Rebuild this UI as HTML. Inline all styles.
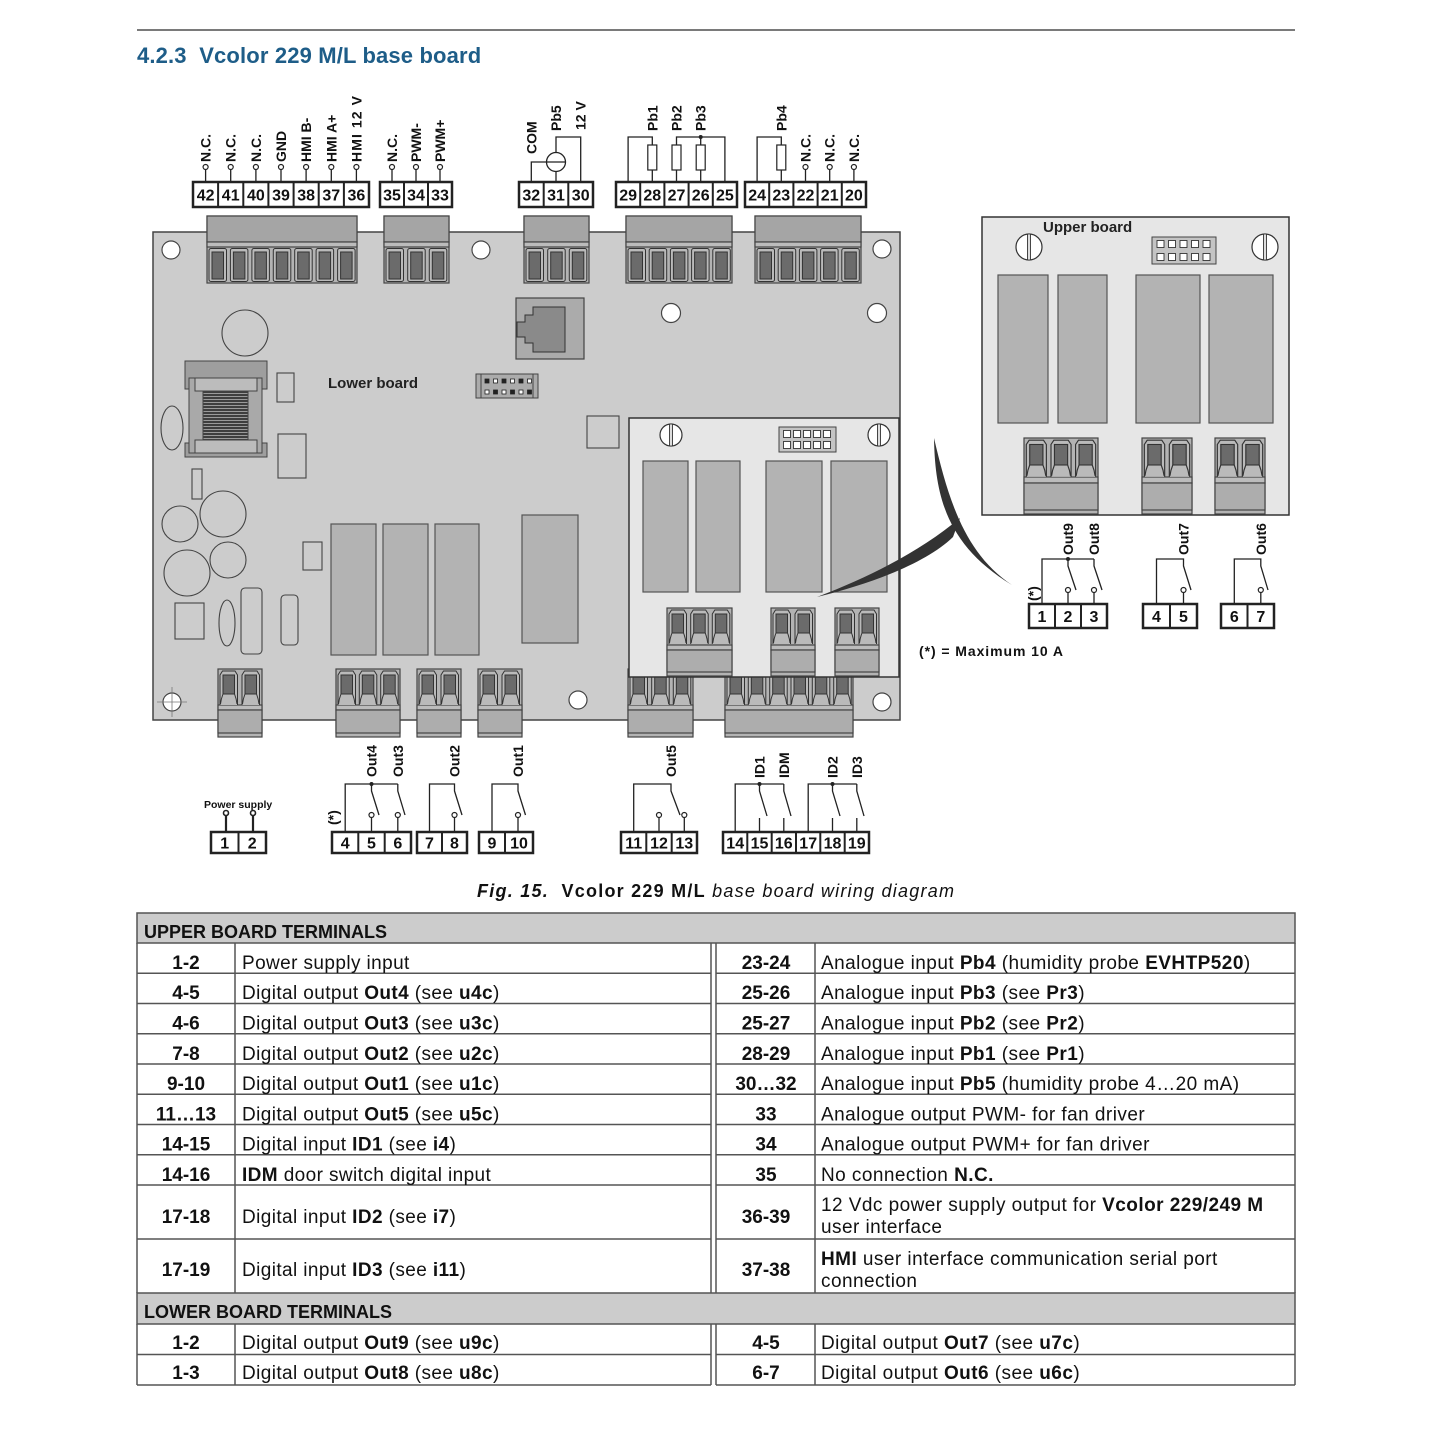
<!DOCTYPE html>
<html><head><meta charset="utf-8">
<style>
html,body{margin:0;padding:0;background:#fff;}
svg{display:block;}
text{font-family:"Liberation Sans",sans-serif;}
.lb{font-size:14px;font-weight:bold;fill:#111;}
.num{font-size:16px;font-weight:bold;fill:#111;text-anchor:middle;}
.k{font-size:19px;font-weight:bold;fill:#111;text-anchor:middle;}
.t{font-size:19px;fill:#111;letter-spacing:0.4px;}
.tr{font-size:19px;fill:#111;letter-spacing:0.45px;}
.h{font-size:18px;font-weight:bold;fill:#111;}
.w{stroke:#222;stroke-width:1.3;fill:none;}
.c{stroke:#444;stroke-width:1.1;fill:none;}
.box{fill:#fff;stroke:#222;stroke-width:2.5;}
.dv{stroke:#222;stroke-width:2;}
.tl{stroke:#555;stroke-width:1.5;}
</style></head><body>
<svg width="1445" height="1445" viewBox="0 0 1445 1445" xmlns="http://www.w3.org/2000/svg">
<defs>
 <pattern id="coil" width="4" height="3" patternUnits="userSpaceOnUse"><rect width="4" height="3" fill="#3e3e3e"/><rect width="4" height="1" fill="#9a9a9a"/></pattern>
 <g id="pt">
  <rect x="2" y="1.5" width="17.5" height="33" rx="2" fill="#bababa" stroke="#333" stroke-width="1"/>
  <rect x="5" y="5" width="11.5" height="27" fill="#6b6b6b" stroke="#333" stroke-width="1"/>
 </g>
 <g id="pb">
  <path d="M2,36 L2,6 L4.5,2 L17,2 L19.5,6 L19.5,36" fill="#bababa" stroke="#333" stroke-width="1"/>
  <rect x="5" y="6" width="11.5" height="19" fill="#6b6b6b" stroke="#333" stroke-width="1"/>
  <path d="M5,25 Q3,30 2.5,35 M16.5,25 Q18.5,30 19,35" fill="none" stroke="#333" stroke-width="1"/>
 </g>
</defs>
<rect width="1445" height="1445" fill="#fff"/>

<!-- header -->
<line x1="137" y1="30" x2="1295" y2="30" stroke="#7a7a7a" stroke-width="2"/>
<text x="137" y="63" font-size="22" font-weight="bold" fill="#1e5d88" style="white-space:pre" letter-spacing="0.15">4.2.3  Vcolor 229 M/L base board</text>

<!-- ============ LOWER BOARD ============ -->
<rect x="153" y="232" width="747" height="488" fill="#cccccc" stroke="#444" stroke-width="1.5"/>

<!-- holes -->
<g fill="#fff" stroke="#444" stroke-width="1.2">
 <circle cx="171" cy="250" r="9"/><circle cx="481" cy="250" r="9"/><circle cx="882" cy="249" r="9"/>
 <circle cx="671" cy="313" r="9.5"/><circle cx="877" cy="313" r="9.5"/><circle cx="578" cy="700" r="9"/>
 <circle cx="882" cy="702" r="9"/><circle cx="172" cy="702" r="9"/>
</g>
<path d="M157,702 H187 M172,687 V717" stroke="#777" stroke-width="0.8"/>

<!-- components lower board -->
<circle cx="245" cy="333" r="23" class="c"/>
<rect x="185" y="361" width="82" height="28" fill="#9e9e9e" stroke="#444"/>
<rect x="185" y="443" width="82" height="14" fill="#9e9e9e" stroke="#444"/>
<rect x="189" y="378" width="73" height="75" fill="#a9a9a9" stroke="#444"/>
<rect x="195" y="378" width="62" height="13" fill="#bcbcbc" stroke="#444"/>
<rect x="195" y="440" width="62" height="13" fill="#bcbcbc" stroke="#444"/>
<rect x="203" y="391" width="45" height="49" fill="url(#coil)" stroke="#444"/>
<rect x="277" y="373" width="17" height="29" class="c"/>
<rect x="278" y="434" width="28" height="44" class="c"/>
<ellipse cx="172" cy="428" rx="11" ry="22" class="c"/>
<rect x="192" y="469" width="10" height="30" class="c"/>
<circle cx="180" cy="524" r="18" class="c"/>
<circle cx="223" cy="514" r="23" class="c"/>
<circle cx="187" cy="573" r="23" class="c"/>
<circle cx="228" cy="560" r="18" class="c"/>
<rect x="175" y="603" width="29" height="36" class="c"/>
<ellipse cx="227" cy="623" rx="8" ry="23" class="c"/>
<rect x="241" y="588" width="21" height="66" rx="4" class="c"/>
<rect x="281" y="595" width="17" height="50" rx="4" class="c"/>
<rect x="303" y="542" width="19" height="28" class="c"/>
<g fill="#b3b3b3" stroke="#555" stroke-width="1.2">
 <rect x="331" y="524" width="45" height="131"/>
 <rect x="383" y="524" width="45" height="131"/>
 <rect x="435" y="524" width="44" height="131"/>
 <rect x="522" y="515" width="56" height="128"/>
</g>
<rect x="587" y="416" width="32" height="32" class="c"/>

<!-- RJ -->
<rect x="516" y="298" width="68" height="61" fill="#ababab" stroke="#444" stroke-width="1.2"/>
<path d="M533,307 H565 V352 H533 V343 H525 V337 H517 V322 H525 V315 H533 Z" fill="#8a8a8a" stroke="#333" stroke-width="1"/>

<!-- header lower -->
<rect x="476" y="374" width="62" height="24" fill="#ababab" stroke="#444"/>
<path d="M481,374 V398 M533,374 V398" stroke="#444"/>
<g stroke="#222" stroke-width="0.8">
 <rect x="485" y="379" width="4" height="4" fill="#222"/><rect x="493.5" y="379" width="4" height="4" fill="#fff"/><rect x="502" y="379" width="4" height="4" fill="#222"/><rect x="510.5" y="379" width="4" height="4" fill="#fff"/><rect x="519" y="379" width="4" height="4" fill="#222"/><rect x="527.5" y="379" width="4" height="4" fill="#fff"/>
 <rect x="485" y="390" width="4" height="4" fill="#fff"/><rect x="493.5" y="390" width="4" height="4" fill="#222"/><rect x="502" y="390" width="4" height="4" fill="#fff"/><rect x="510.5" y="390" width="4" height="4" fill="#222"/><rect x="519" y="390" width="4" height="4" fill="#fff"/><rect x="527.5" y="390" width="4" height="4" fill="#222"/>
</g>
<text x="328" y="388" font-size="15" font-weight="bold" fill="#222">Lower board</text>

<!-- top connectors -->
<g stroke="#444" stroke-width="1.2">
 <rect x="207" y="216" width="150" height="67" fill="#b3b3b3"/><rect x="207" y="216" width="150" height="26" fill="#a5a5a5"/><rect x="207" y="242" width="150" height="5" fill="#bcbcbc"/>
 <rect x="384" y="216" width="65" height="67" fill="#b3b3b3"/><rect x="384" y="216" width="65" height="26" fill="#a5a5a5"/><rect x="384" y="242" width="65" height="5" fill="#bcbcbc"/>
 <rect x="524" y="216" width="65" height="67" fill="#b3b3b3"/><rect x="524" y="216" width="65" height="26" fill="#a5a5a5"/><rect x="524" y="242" width="65" height="5" fill="#bcbcbc"/>
 <rect x="626" y="216" width="106" height="67" fill="#b3b3b3"/><rect x="626" y="216" width="106" height="26" fill="#a5a5a5"/><rect x="626" y="242" width="106" height="5" fill="#bcbcbc"/>
 <rect x="755" y="216" width="106" height="67" fill="#b3b3b3"/><rect x="755" y="216" width="106" height="26" fill="#a5a5a5"/><rect x="755" y="242" width="106" height="5" fill="#bcbcbc"/>
</g>
<use href="#pt" x="207" y="247"/><use href="#pt" x="228.4" y="247"/><use href="#pt" x="249.9" y="247"/><use href="#pt" x="271.3" y="247"/><use href="#pt" x="292.7" y="247"/><use href="#pt" x="314.1" y="247"/><use href="#pt" x="335.6" y="247"/>
<use href="#pt" x="384" y="247"/><use href="#pt" x="405.7" y="247"/><use href="#pt" x="427.3" y="247"/>
<use href="#pt" x="524" y="247"/><use href="#pt" x="545.7" y="247"/><use href="#pt" x="567.3" y="247"/>
<use href="#pt" x="626" y="247"/><use href="#pt" x="647.2" y="247"/><use href="#pt" x="668.4" y="247"/><use href="#pt" x="689.6" y="247"/><use href="#pt" x="710.8" y="247"/>
<use href="#pt" x="755" y="247"/><use href="#pt" x="776.2" y="247"/><use href="#pt" x="797.4" y="247"/><use href="#pt" x="818.6" y="247"/><use href="#pt" x="839.8" y="247"/>

<!-- bottom connectors lower board -->
<g stroke="#444" stroke-width="1.2">
 <rect x="218" y="669" width="44" height="68" fill="#b3b3b3"/><rect x="218" y="705" width="44" height="5" fill="#bcbcbc"/><rect x="218" y="710" width="44" height="23" fill="#adadad"/>
 <rect x="336" y="669" width="64" height="68" fill="#b3b3b3"/><rect x="336" y="705" width="64" height="5" fill="#bcbcbc"/><rect x="336" y="710" width="64" height="23" fill="#adadad"/>
 <rect x="417" y="669" width="44" height="68" fill="#b3b3b3"/><rect x="417" y="705" width="44" height="5" fill="#bcbcbc"/><rect x="417" y="710" width="44" height="23" fill="#adadad"/>
 <rect x="478" y="669" width="44" height="68" fill="#b3b3b3"/><rect x="478" y="705" width="44" height="5" fill="#bcbcbc"/><rect x="478" y="710" width="44" height="23" fill="#adadad"/>
 <rect x="628" y="669" width="65" height="68" fill="#b3b3b3"/><rect x="628" y="705" width="65" height="5" fill="#bcbcbc"/><rect x="628" y="710" width="65" height="23" fill="#adadad"/>
 <rect x="725" y="669" width="128" height="68" fill="#b3b3b3"/><rect x="725" y="705" width="128" height="5" fill="#bcbcbc"/><rect x="725" y="710" width="128" height="23" fill="#adadad"/>
</g>
<use href="#pb" x="218" y="669"/><use href="#pb" x="240" y="669"/>
<use href="#pb" x="336" y="669"/><use href="#pb" x="357.3" y="669"/><use href="#pb" x="378.7" y="669"/>
<use href="#pb" x="417" y="669"/><use href="#pb" x="439" y="669"/>
<use href="#pb" x="478" y="669"/><use href="#pb" x="500" y="669"/>
<use href="#pb" x="628" y="669"/><use href="#pb" x="649.7" y="669"/><use href="#pb" x="671.3" y="669"/>
<use href="#pb" x="725" y="669"/><use href="#pb" x="746.3" y="669"/><use href="#pb" x="767.7" y="669"/><use href="#pb" x="789" y="669"/><use href="#pb" x="810.3" y="669"/><use href="#pb" x="831.7" y="669"/>

<!-- ============ OVERLAY UPPER BOARD (on lower) ============ -->
<rect x="629" y="418" width="270" height="259" fill="#e6e6e6" stroke="#333" stroke-width="1.5"/>
<circle cx="671" cy="435" r="11" fill="#fff" stroke="#333" stroke-width="1.2"/>
<rect x="669.5" y="424" width="3" height="22" fill="#ddd" stroke="#333" stroke-width="0.9"/>
<circle cx="879" cy="435" r="11" fill="#fff" stroke="#333" stroke-width="1.2"/>
<rect x="877.5" y="424" width="3" height="22" fill="#ddd" stroke="#333" stroke-width="0.9"/>
<rect x="779" y="427" width="57" height="25" fill="#c4c4c4" stroke="#444"/>
<g fill="#fff" stroke="#333" stroke-width="0.9">
 <rect x="783.5" y="430.5" width="7" height="7"/><rect x="793.5" y="430.5" width="7" height="7"/><rect x="803.5" y="430.5" width="7" height="7"/><rect x="813.5" y="430.5" width="7" height="7"/><rect x="823.5" y="430.5" width="7" height="7"/>
 <rect x="783.5" y="441.5" width="7" height="7"/><rect x="793.5" y="441.5" width="7" height="7"/><rect x="803.5" y="441.5" width="7" height="7"/><rect x="813.5" y="441.5" width="7" height="7"/><rect x="823.5" y="441.5" width="7" height="7"/>
</g>
<g fill="#b3b3b3" stroke="#555" stroke-width="1.2">
 <rect x="643" y="461" width="45" height="131"/><rect x="696" y="461" width="44" height="131"/>
 <rect x="766" y="461" width="56" height="131"/><rect x="831" y="461" width="56" height="131"/>
</g>
<g stroke="#444" stroke-width="1.2">
 <rect x="667" y="608" width="65" height="68" fill="#b3b3b3"/><rect x="667" y="645" width="65" height="5" fill="#bcbcbc"/><rect x="667" y="650" width="65" height="22" fill="#adadad"/>
 <rect x="771" y="608" width="44" height="68" fill="#b3b3b3"/><rect x="771" y="645" width="44" height="5" fill="#bcbcbc"/><rect x="771" y="650" width="44" height="22" fill="#adadad"/>
 <rect x="835" y="608" width="44" height="68" fill="#b3b3b3"/><rect x="835" y="645" width="44" height="5" fill="#bcbcbc"/><rect x="835" y="650" width="44" height="22" fill="#adadad"/>
</g>
<use href="#pb" x="667" y="608"/><use href="#pb" x="688.7" y="608"/><use href="#pb" x="710.3" y="608"/>
<use href="#pb" x="771" y="608"/><use href="#pb" x="793" y="608"/>
<use href="#pb" x="835" y="608"/><use href="#pb" x="857" y="608"/>

<!-- ============ UPPER BOARD (right) ============ -->
<rect x="982" y="217" width="307" height="298" fill="#e6e6e6" stroke="#333" stroke-width="1.5"/>
<text x="1043" y="232" font-size="15" font-weight="bold" fill="#222">Upper board</text>
<circle cx="1029" cy="247" r="13" fill="#fff" stroke="#333" stroke-width="1.2"/>
<rect x="1027.5" y="234" width="3" height="26" fill="#ddd" stroke="#333" stroke-width="0.9"/>
<circle cx="1265" cy="247" r="13" fill="#fff" stroke="#333" stroke-width="1.2"/>
<rect x="1263.5" y="234" width="3" height="26" fill="#ddd" stroke="#333" stroke-width="0.9"/>
<rect x="1152" y="237" width="64" height="27" fill="#c4c4c4" stroke="#444"/>
<g fill="#fff" stroke="#333" stroke-width="0.9">
 <rect x="1157" y="240.5" width="7" height="7"/><rect x="1168.5" y="240.5" width="7" height="7"/><rect x="1180" y="240.5" width="7" height="7"/><rect x="1191.5" y="240.5" width="7" height="7"/><rect x="1203" y="240.5" width="7" height="7"/>
 <rect x="1157" y="253.5" width="7" height="7"/><rect x="1168.5" y="253.5" width="7" height="7"/><rect x="1180" y="253.5" width="7" height="7"/><rect x="1191.5" y="253.5" width="7" height="7"/><rect x="1203" y="253.5" width="7" height="7"/>
</g>
<g fill="#b3b3b3" stroke="#555" stroke-width="1.2">
 <rect x="998" y="275" width="50" height="148"/><rect x="1058" y="275" width="49" height="148"/>
 <rect x="1136" y="275" width="64" height="148"/><rect x="1209" y="275" width="64" height="148"/>
</g>
<g stroke="#444" stroke-width="1.2">
 <rect x="1024" y="438" width="74" height="76" fill="#b3b3b3"/><rect x="1024" y="477" width="74" height="6" fill="#bcbcbc"/><rect x="1024" y="483" width="74" height="27" fill="#adadad"/>
 <rect x="1142" y="438" width="50" height="76" fill="#b3b3b3"/><rect x="1142" y="477" width="50" height="6" fill="#bcbcbc"/><rect x="1142" y="483" width="50" height="27" fill="#adadad"/>
 <rect x="1215" y="438" width="50" height="76" fill="#b3b3b3"/><rect x="1215" y="477" width="50" height="6" fill="#bcbcbc"/><rect x="1215" y="483" width="50" height="27" fill="#adadad"/>
</g>
<use href="#pb" transform="translate(1024,438) scale(1.147,1.08)"/><use href="#pb" transform="translate(1048.7,438) scale(1.147,1.08)"/><use href="#pb" transform="translate(1073.3,438) scale(1.147,1.08)"/>
<use href="#pb" transform="translate(1142,438) scale(1.163,1.08)"/><use href="#pb" transform="translate(1167,438) scale(1.163,1.08)"/>
<use href="#pb" transform="translate(1215,438) scale(1.163,1.08)"/><use href="#pb" transform="translate(1240,438) scale(1.163,1.08)"/>

<!-- swoosh -->
<path d="M934,438 C935,495 946,545 1012,585 C964,553 948,498 934,438 Z" fill="#333"/>
<path d="M960,518 C922,550 872,576 817,597 C877,582 927,562 953,537 Z" fill="#333"/>

<!-- ============ TOP TERMINALS ============ -->
<g class="w">
 <path d="M205.6,169.5 V182 M230.7,169.5 V182 M255.9,169.5 V182 M281,169.5 V182 M306.1,169.5 V182 M331.3,169.5 V182 M356.4,169.5 V182"/>
 <path d="M392,169.5 V182 M416,169.5 V182 M440,169.5 V182"/>
 <path d="M805.5,169.5 V182 M829.7,169.5 V182 M853.9,169.5 V182"/>
</g>
<g fill="#fff" stroke="#222" stroke-width="1.2">
 <circle cx="205.6" cy="167" r="2.5"/><circle cx="230.7" cy="167" r="2.5"/><circle cx="255.9" cy="167" r="2.5"/><circle cx="281" cy="167" r="2.5"/><circle cx="306.1" cy="167" r="2.5"/><circle cx="331.3" cy="167" r="2.5"/><circle cx="356.4" cy="167" r="2.5"/>
 <circle cx="392" cy="167" r="2.5"/><circle cx="416" cy="167" r="2.5"/><circle cx="440" cy="167" r="2.5"/>
 <circle cx="805.5" cy="167" r="2.5"/><circle cx="829.7" cy="167" r="2.5"/><circle cx="853.9" cy="167" r="2.5"/>
</g>
<text class="lb" transform="translate(210.6,162) rotate(-90)">N.C.</text>
<text class="lb" transform="translate(235.7,162) rotate(-90)">N.C.</text>
<text class="lb" transform="translate(260.9,162) rotate(-90)">N.C.</text>
<text class="lb" transform="translate(286,162) rotate(-90)">GND</text>
<text class="lb" transform="translate(311.1,162) rotate(-90)">HMI B-</text>
<text class="lb" transform="translate(336.3,162) rotate(-90)">HMI A+</text>
<text class="lb" transform="translate(361.4,162) rotate(-90)" textLength="66">HMI 12 V</text>
<text class="lb" transform="translate(397,162) rotate(-90)">N.C.</text>
<text class="lb" transform="translate(421,162) rotate(-90)">PWM-</text>
<text class="lb" transform="translate(445,162) rotate(-90)">PWM+</text>
<text class="lb" transform="translate(536.3,154) rotate(-90)">COM</text>
<text class="lb" transform="translate(561,131) rotate(-90)">Pb5</text>
<text class="lb" transform="translate(585.7,130) rotate(-90)">12 V</text>
<text class="lb" transform="translate(657.3,131) rotate(-90)">Pb1</text>
<text class="lb" transform="translate(681.5,131) rotate(-90)">Pb2</text>
<text class="lb" transform="translate(705.7,131) rotate(-90)">Pb3</text>
<text class="lb" transform="translate(786.3,131) rotate(-90)">Pb4</text>
<text class="lb" transform="translate(810.5,162) rotate(-90)">N.C.</text>
<text class="lb" transform="translate(834.7,162) rotate(-90)">N.C.</text>
<text class="lb" transform="translate(858.9,162) rotate(-90)">N.C.</text>

<!-- sensor / resistors wiring -->
<g class="w">
 <path d="M531.3,182 V162 H546.5"/>
 <path d="M556,171.5 V182 M556,152.5 V137 H580.7 V182"/>
 <path d="M628.1,182 V137 H652.3 V145 M652.3,170 V182"/>
 <path d="M676.5,182 V170 M676.5,145 V137 H724.9 V182 M700.7,137 V145 M700.7,170 V182"/>
 <path d="M757.1,182 V137 H781.3 V145 M781.3,170 V182"/>
</g>
<circle cx="556" cy="162" r="9.5" fill="#fff" stroke="#222" stroke-width="1.3"/>
<path d="M546.5,162 H565.5" class="w"/>
<g fill="#fff" stroke="#222" stroke-width="1.2">
 <rect x="647.8" y="145" width="9" height="25"/><rect x="672" y="145" width="9" height="25"/><rect x="696.2" y="145" width="9" height="25"/><rect x="776.8" y="145" width="9" height="25"/>
</g>
<circle cx="700.7" cy="137" r="2" fill="#222"/>

<!-- top boxes -->
<rect x="193" y="182" width="176" height="25" class="box"/>
<path d="M218.1,182 V207 M243.3,182 V207 M268.4,182 V207 M293.6,182 V207 M318.7,182 V207 M343.9,182 V207" class="dv"/>
<rect x="380" y="182" width="72" height="25" class="box"/>
<path d="M404,182 V207 M428,182 V207" class="dv"/>
<rect x="519" y="182" width="74" height="25" class="box"/>
<path d="M543.7,182 V207 M568.3,182 V207" class="dv"/>
<rect x="616" y="182" width="121" height="25" class="box"/>
<path d="M640.2,182 V207 M664.4,182 V207 M688.6,182 V207 M712.8,182 V207" class="dv"/>
<rect x="745" y="182" width="121" height="25" class="box"/>
<path d="M769.2,182 V207 M793.4,182 V207 M817.6,182 V207 M841.8,182 V207" class="dv"/>
<g class="num">
 <text x="205.6" y="200.5">42</text><text x="230.7" y="200.5">41</text><text x="255.9" y="200.5">40</text><text x="281" y="200.5">39</text><text x="306.1" y="200.5">38</text><text x="331.3" y="200.5">37</text><text x="356.4" y="200.5">36</text>
 <text x="392" y="200.5">35</text><text x="416" y="200.5">34</text><text x="440" y="200.5">33</text>
 <text x="531.3" y="200.5">32</text><text x="556" y="200.5">31</text><text x="580.7" y="200.5">30</text>
 <text x="628.1" y="200.5">29</text><text x="652.3" y="200.5">28</text><text x="676.5" y="200.5">27</text><text x="700.7" y="200.5">26</text><text x="724.9" y="200.5">25</text>
 <text x="757.1" y="200.5">24</text><text x="781.3" y="200.5">23</text><text x="805.5" y="200.5">22</text><text x="829.7" y="200.5">21</text><text x="853.9" y="200.5">20</text>
</g>

<!-- ============ BOTTOM TERMINALS ============ -->
<text x="204" y="808" font-size="10.5" font-weight="bold" fill="#111">Power supply</text>
<path d="M226,815 V832 M253,815 V832" stroke="#222" stroke-width="2.2"/>
<g fill="#fff" stroke="#222" stroke-width="1.6">
 <circle cx="226" cy="813" r="2.5"/><circle cx="253" cy="813" r="2.5"/>
</g>

<g class="w">
 <path d="M345.2,832 V784 H397.8"/>
 <path d="M371.5,784 V791 L379,815 M397.8,784 V791 L405,815"/>
 <path d="M371.5,817.5 V832 M397.8,817.5 V832"/>
 <path d="M429.5,832 V784 H454.5 V791 L462,815 M454.5,817.5 V832"/>
 <path d="M492,832 V784 H518 V791 L525.5,815 M518,817.5 V832"/>
 <path d="M633.7,832 V784 H671 V791 L680,815 M659,817.5 V832 M684.3,817.5 V832"/>
 <path d="M735.2,832 V784 H783.8 M759.5,784 V791 L767,816 M783.8,784 V791 L791,816 M759.5,818 V832 M783.8,818 V832"/>
 <path d="M808.2,832 V784 H856.8 M832.5,784 V791 L840,816 M856.8,784 V791 L864,816 M832.5,818 V832 M856.8,818 V832"/>
</g>
<g fill="#fff" stroke="#222" stroke-width="1.2">
 <circle cx="371.5" cy="815" r="2.5"/><circle cx="397.8" cy="815" r="2.5"/><circle cx="454.5" cy="815" r="2.5"/><circle cx="518" cy="815" r="2.5"/>
 <circle cx="659" cy="815" r="2.5"/><circle cx="684.3" cy="815" r="2.5"/>
</g>
<g fill="#222"><circle cx="371.5" cy="784" r="2"/><circle cx="759.5" cy="784" r="2"/><circle cx="832.5" cy="784" r="2"/></g>

<text class="lb" transform="translate(376.5,777) rotate(-90)">Out4</text>
<text class="lb" transform="translate(402.8,777) rotate(-90)">Out3</text>
<text class="lb" transform="translate(459.5,777) rotate(-90)">Out2</text>
<text class="lb" transform="translate(523,777) rotate(-90)">Out1</text>
<text class="lb" transform="translate(676,777) rotate(-90)">Out5</text>
<text class="lb" transform="translate(764.5,778) rotate(-90)">ID1</text>
<text class="lb" transform="translate(788.8,778) rotate(-90)">IDM</text>
<text class="lb" transform="translate(837.5,778) rotate(-90)">ID2</text>
<text class="lb" transform="translate(861.8,778) rotate(-90)">ID3</text>
<text class="lb" font-size="13" transform="translate(338,825) rotate(-90)">(*)</text>

<rect x="211" y="832" width="55" height="21" class="box"/><path d="M238.5,832 V853" class="dv"/>
<rect x="332" y="832" width="79" height="21" class="box"/><path d="M358.3,832 V853 M384.7,832 V853" class="dv"/>
<rect x="417" y="832" width="50" height="21" class="box"/><path d="M442,832 V853" class="dv"/>
<rect x="479" y="832" width="54" height="21" class="box"/><path d="M505,832 V853" class="dv"/>
<rect x="621" y="832" width="76" height="21" class="box"/><path d="M646.3,832 V853 M671.7,832 V853" class="dv"/>
<rect x="723" y="832" width="146" height="21" class="box"/><path d="M747.3,832 V853 M771.7,832 V853 M796,832 V853 M820.3,832 V853 M844.7,832 V853" class="dv"/>
<g class="num">
 <text x="224.75" y="848.5">1</text><text x="252.25" y="848.5">2</text>
 <text x="345.2" y="848.5">4</text><text x="371.5" y="848.5">5</text><text x="397.8" y="848.5">6</text>
 <text x="429.5" y="848.5">7</text><text x="454.5" y="848.5">8</text>
 <text x="492" y="848.5">9</text><text x="519" y="848.5">10</text>
 <text x="633.7" y="848.5">11</text><text x="659" y="848.5">12</text><text x="684.3" y="848.5">13</text>
 <text x="735.2" y="848.5">14</text><text x="759.5" y="848.5">15</text><text x="783.8" y="848.5">16</text><text x="808.2" y="848.5">17</text><text x="832.5" y="848.5">18</text><text x="856.8" y="848.5">19</text>
</g>

<!-- ============ UPPER BOARD OUTPUTS ============ -->
<g class="w">
 <path d="M1042,604 V559 H1094 M1068,559 V566 L1076,590 M1094,559 V566 L1102,590 M1068,592.5 V604 M1094,592.5 V604"/>
 <path d="M1156.5,604 V559 H1183.5 V566 L1191,590 M1183.5,592.5 V604"/>
 <path d="M1234.3,604 V559 H1260.8 V566 L1268,590 M1260.8,592.5 V604"/>
</g>
<g fill="#fff" stroke="#222" stroke-width="1.2">
 <circle cx="1068" cy="590" r="2.5"/><circle cx="1094" cy="590" r="2.5"/><circle cx="1183.5" cy="590" r="2.5"/><circle cx="1260.8" cy="590" r="2.5"/>
</g>
<circle cx="1068" cy="559" r="2" fill="#222"/>
<text class="lb" transform="translate(1073,555) rotate(-90)">Out9</text>
<text class="lb" transform="translate(1099,555) rotate(-90)">Out8</text>
<text class="lb" transform="translate(1188.5,555) rotate(-90)">Out7</text>
<text class="lb" transform="translate(1265.8,555) rotate(-90)">Out6</text>
<text class="lb" font-size="13" transform="translate(1038,601) rotate(-90)">(*)</text>
<rect x="1029" y="604" width="78" height="24" class="box"/><path d="M1055,604 V628 M1081,604 V628" class="dv"/>
<rect x="1143" y="604" width="54" height="24" class="box"/><path d="M1170,604 V628" class="dv"/>
<rect x="1221" y="604" width="53" height="24" class="box"/><path d="M1247.5,604 V628" class="dv"/>
<g class="num">
 <text x="1042" y="622">1</text><text x="1068" y="622">2</text><text x="1094" y="622">3</text>
 <text x="1156.5" y="622">4</text><text x="1183.5" y="622">5</text>
 <text x="1234.3" y="622">6</text><text x="1260.8" y="622">7</text>
</g>
<text x="919" y="656" font-size="14" font-weight="bold" fill="#111" textLength="144">(*) = Maximum 10 A</text>

<!-- caption -->
<text x="477" y="897" font-size="18" fill="#111" textLength="477" style="white-space:pre"><tspan font-weight="bold" font-style="italic">Fig. 15.</tspan>  <tspan font-weight="bold">Vcolor 229 M/L</tspan> <tspan font-style="italic">base board wiring diagram</tspan></text>

<!-- ============ TABLE ============ -->
<rect x="137" y="913" width="1158" height="30" fill="#cccccc" class="tl"/>
<text class="h" x="144" y="938">UPPER BOARD TERMINALS</text>
<rect x="137" y="1293" width="1158" height="31" fill="#cccccc" class="tl"/>
<text class="h" x="144" y="1318">LOWER BOARD TERMINALS</text>

<g class="tl">
 <path d="M137,943 V1293 M235,943 V1293 M711,943 V1293"/>
 <path d="M137,973.3 H711 M137,1003.5 H711 M137,1033.8 H711 M137,1064 H711 M137,1094.3 H711 M137,1124.5 H711 M137,1154.8 H711 M137,1185 H711 M137,1239 H711"/>
 <path d="M716,943 V1293 M815,943 V1293 M1295,943 V1293"/>
 <path d="M716,973.3 H1295 M716,1003.5 H1295 M716,1033.8 H1295 M716,1064 H1295 M716,1094.3 H1295 M716,1124.5 H1295 M716,1154.8 H1295 M716,1185 H1295 M716,1239 H1295"/>
 <path d="M137,1324 V1385 M235,1324 V1385 M711,1324 V1385 M716,1324 V1385 M815,1324 V1385 M1295,1324 V1385"/>
 <path d="M137,1354.5 H711 M137,1385 H711 M716,1354.5 H1295 M716,1385 H1295"/>
</g>

<!-- left rows -->
<g class="k">
 <text x="186" y="969">1-2</text><text x="186" y="999">4-5</text><text x="186" y="1029.5">4-6</text><text x="186" y="1060">7-8</text>
 <text x="186" y="1090">9-10</text><text x="186" y="1120.5">11…13</text><text x="186" y="1150.5">14-15</text><text x="186" y="1181">14-16</text>
 <text x="186" y="1223">17-18</text><text x="186" y="1276">17-19</text>
 <text x="186" y="1349">1-2</text><text x="186" y="1379">1-3</text>
</g>
<g class="t">
 <text x="242" y="969">Power supply input</text>
 <text x="242" y="999">Digital output <tspan font-weight="bold">Out4</tspan> (see <tspan font-weight="bold">u4c</tspan>)</text>
 <text x="242" y="1029.5">Digital output <tspan font-weight="bold">Out3</tspan> (see <tspan font-weight="bold">u3c</tspan>)</text>
 <text x="242" y="1060">Digital output <tspan font-weight="bold">Out2</tspan> (see <tspan font-weight="bold">u2c</tspan>)</text>
 <text x="242" y="1090">Digital output <tspan font-weight="bold">Out1</tspan> (see <tspan font-weight="bold">u1c</tspan>)</text>
 <text x="242" y="1120.5">Digital output <tspan font-weight="bold">Out5</tspan> (see <tspan font-weight="bold">u5c</tspan>)</text>
 <text x="242" y="1150.5">Digital input <tspan font-weight="bold">ID1</tspan> (see <tspan font-weight="bold">i4</tspan>)</text>
 <text x="242" y="1181"><tspan font-weight="bold">IDM</tspan> door switch digital input</text>
 <text x="242" y="1223">Digital input <tspan font-weight="bold">ID2</tspan> (see <tspan font-weight="bold">i7</tspan>)</text>
 <text x="242" y="1276">Digital input <tspan font-weight="bold">ID3</tspan> (see <tspan font-weight="bold">i11</tspan>)</text>
 <text x="242" y="1349">Digital output <tspan font-weight="bold">Out9</tspan> (see <tspan font-weight="bold">u9c</tspan>)</text>
 <text x="242" y="1379">Digital output <tspan font-weight="bold">Out8</tspan> (see <tspan font-weight="bold">u8c</tspan>)</text>
</g>

<!-- right rows -->
<g class="k">
 <text x="766" y="969">23-24</text><text x="766" y="999">25-26</text><text x="766" y="1029.5">25-27</text><text x="766" y="1060">28-29</text>
 <text x="766" y="1090">30…32</text><text x="766" y="1120.5">33</text><text x="766" y="1150.5">34</text><text x="766" y="1181">35</text>
 <text x="766" y="1223">36-39</text><text x="766" y="1276">37-38</text>
 <text x="766" y="1349">4-5</text><text x="766" y="1379">6-7</text>
</g>
<g class="tr">
 <text x="821" y="969">Analogue input <tspan font-weight="bold">Pb4</tspan> (humidity probe <tspan font-weight="bold">EVHTP520</tspan>)</text>
 <text x="821" y="999">Analogue input <tspan font-weight="bold">Pb3</tspan> (see <tspan font-weight="bold">Pr3</tspan>)</text>
 <text x="821" y="1029.5">Analogue input <tspan font-weight="bold">Pb2</tspan> (see <tspan font-weight="bold">Pr2</tspan>)</text>
 <text x="821" y="1060">Analogue input <tspan font-weight="bold">Pb1</tspan> (see <tspan font-weight="bold">Pr1</tspan>)</text>
 <text x="821" y="1090">Analogue input <tspan font-weight="bold">Pb5</tspan> (humidity probe 4…20 mA)</text>
 <text x="821" y="1120.5">Analogue output PWM- for fan driver</text>
 <text x="821" y="1150.5">Analogue output PWM+ for fan driver</text>
 <text x="821" y="1181">No connection <tspan font-weight="bold">N.C.</tspan></text>
 <text x="821" y="1211">12 Vdc power supply output for <tspan font-weight="bold">Vcolor 229/249 M</tspan></text>
 <text x="821" y="1233">user interface</text>
 <text x="821" y="1265"><tspan font-weight="bold">HMI</tspan> user interface communication serial port</text>
 <text x="821" y="1287">connection</text>
 <text x="821" y="1349">Digital output <tspan font-weight="bold">Out7</tspan> (see <tspan font-weight="bold">u7c</tspan>)</text>
 <text x="821" y="1379">Digital output <tspan font-weight="bold">Out6</tspan> (see <tspan font-weight="bold">u6c</tspan>)</text>
</g>
</svg>
</body></html>
